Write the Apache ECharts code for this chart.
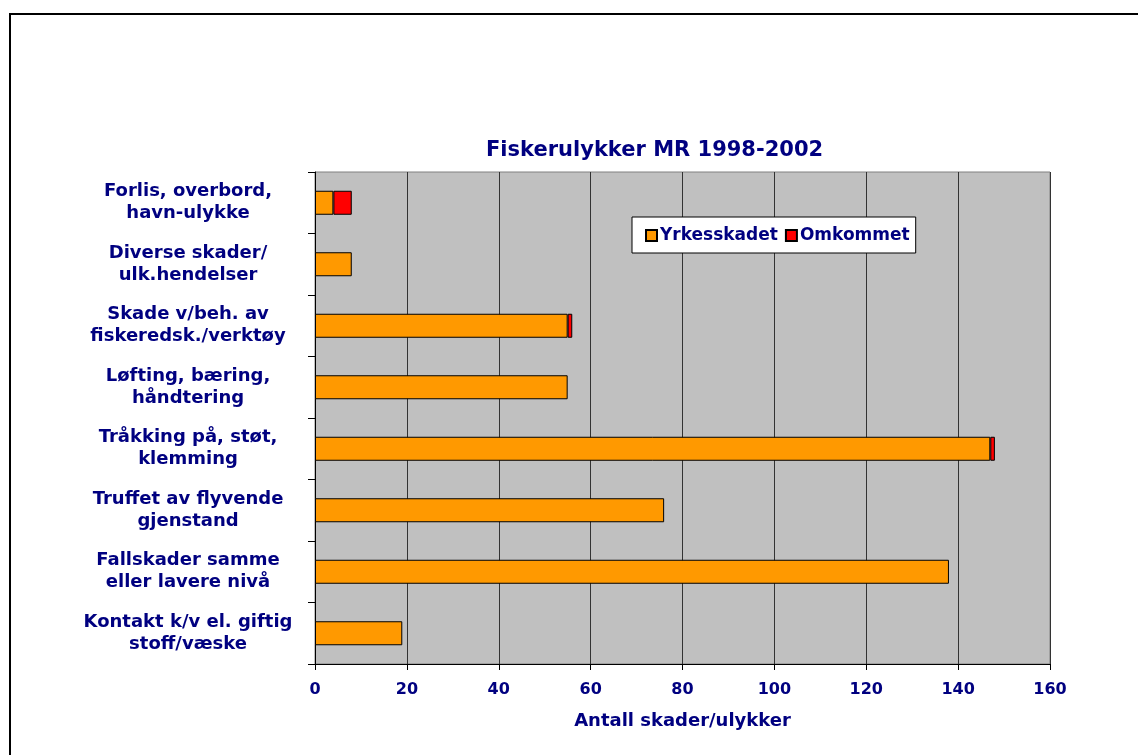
<!DOCTYPE html>
<html lang="no">
<head>
<meta charset="UTF-8">
<title>Fiskerulykker MR 1998-2002</title>
<style>
  html, body { margin: 0; padding: 0; background: #fff; }
  #chart { width: 1138px; height: 755px; }
</style>
<script src="https://cdn.jsdelivr.net/npm/echarts@6/dist/echarts.min.js"></script>
</head>
<body>
<div id="chart"></div>
<script>
// kategorier (ovenfra og ned)
const categories = [
  'Forlis, overbord,\nhavn-ulykke',
  'Diverse skader/\nulk.hendelser',
  'Skade v/beh. av\nfiskeredsk./verktøy',
  'Løfting, bæring,\nhåndtering',
  'Tråkking på, støt,\nklemming',
  'Truffet av flyvende\ngjenstand',
  'Fallskader samme\neller lavere nivå',
  'Kontakt k/v el. giftig\nstoff/væske'
];
const yrkesskadet = [4, 8, 55, 55, 147, 76, 138, 19];
const omkommet = [4, 0, 1, 0, 1, 0, 0, 0];
const xTicks = [0, 20, 40, 60, 80, 100, 120, 140, 160];

const navy = '#000080';
const font = 'DejaVu Sans, Verdana, sans-serif';

const chart = echarts.init(document.getElementById('chart'));

const option = {
  backgroundColor: '#fff',
  animation: false,
  title: {
    text: 'Fiskerulykker MR 1998-2002',
    left: 481,
    top: 135,
    textStyle: { color: navy, fontSize: 21, fontWeight: 'bold', fontFamily: font }
  },
  legend: {
    left: 632,
    top: 217,
    height: 37,
    padding: [10, 6, 9, 13],
    backgroundColor: '#fff',
    borderColor: '#000',
    borderWidth: 1,
    itemWidth: 11,
    itemHeight: 11,
    itemGap: 7,
    icon: 'rect',
    textStyle: { color: navy, fontSize: 17, fontWeight: 'bold', fontFamily: font, padding: [0, 0, 0, -2] },
    data: ['Yrkesskadet', 'Omkommet']
  },
  graphic: [{
    type: 'rect',
    z: -1,
    shape: { x: 10, y: 14, width: 1200, height: 800 },
    style: { fill: 'none', stroke: '#000', lineWidth: 2 }
  }],
  grid: {
    left: 315,
    right: 88,
    top: 172,
    bottom: 91,
    show: true,
    backgroundColor: '#c0c0c0',
    borderColor: '#808080',
    borderWidth: 1
  },
  xAxis: {
    type: 'value',
    min: 0,
    max: 160,
    interval: 20,
    name: 'Antall skader/ulykker',
    nameLocation: 'middle',
    nameGap: 48,
    nameTextStyle: { color: navy, fontSize: 18, fontWeight: 'bold', fontFamily: font },
    axisLine: { show: true, lineStyle: { color: '#000', width: 1 } },
    axisTick: { show: true, length: 6, lineStyle: { color: '#000' } },
    axisLabel: {
      color: navy, fontSize: 16, fontWeight: 'bold', fontFamily: font, margin: 18,
      formatter: v => xTicks.includes(v) ? String(v) : ''
    },
    splitLine: { show: true, lineStyle: { color: '#333', width: 1 } }
  },
  yAxis: {
    type: 'category',
    inverse: true,
    data: categories,
    axisLine: { show: true, lineStyle: { color: '#000', width: 1 } },
    axisTick: { show: true, length: 7, lineStyle: { color: '#000' } },
    axisLabel: {
      color: navy, fontSize: 18, fontWeight: 'bold', fontFamily: font,
      align: 'center', margin: 127, lineHeight: 22
    },
    splitLine: { show: false }
  },
  series: [
    {
      name: 'Yrkesskadet',
      type: 'bar',
      stack: 'total',
      barWidth: 24,
      itemStyle: { color: '#FF9900', borderColor: '#000', borderWidth: 1 },
      data: yrkesskadet.map(v => v || null)
    },
    {
      name: 'Omkommet',
      type: 'bar',
      stack: 'total',
      barWidth: 24,
      itemStyle: { color: '#FF0000', borderColor: '#000', borderWidth: 1 },
      data: omkommet.map(v => v || null)
    }
  ]
};

chart.setOption(option);
</script>
</body>
</html>
